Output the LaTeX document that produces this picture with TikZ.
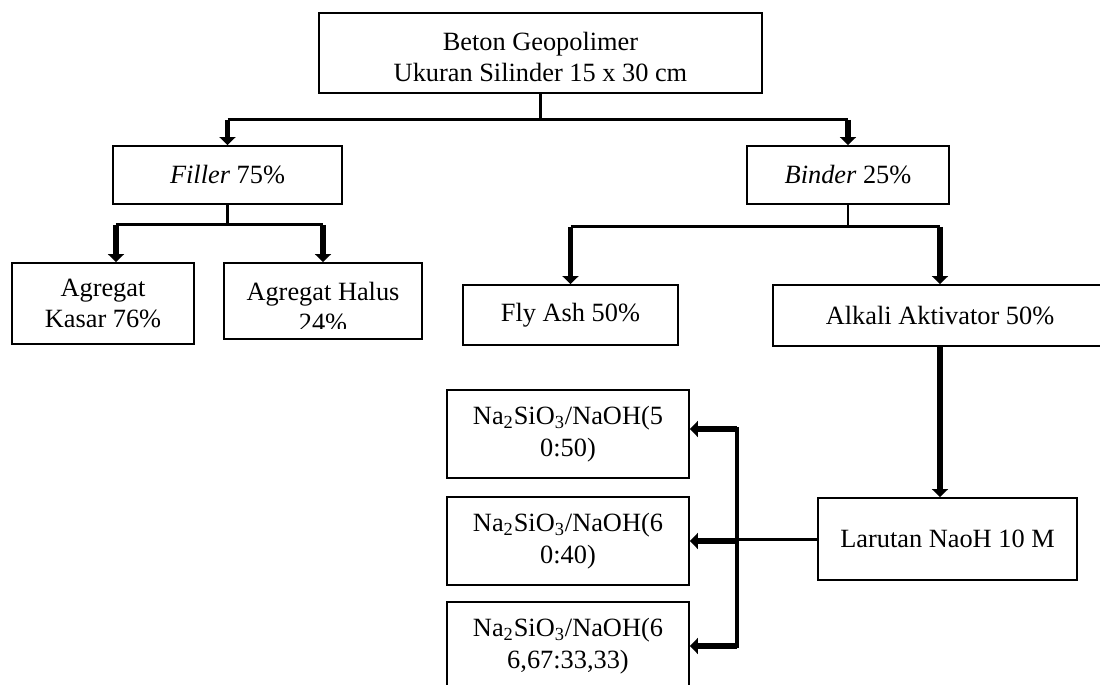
\documentclass[tikz,border=0pt]{standalone}
\usepackage{fontspec}
\setmainfont{Liberation Serif}
\usetikzlibrary{arrows.meta}
\newcommand{\chartfont}{\fontsize{15}{18}\selectfont}
\tikzset{
    box/.style={draw, line width=1.1pt, inner sep=0pt, align=center, font=\chartfont},
    link/.style={line width=1.7pt},
    rail/.style={line width=2.5pt, line cap=rect},
    feed/.style={line width=3.4pt, -{Triangle[width=9pt,length=4.5pt]}}
}

\begin{document}
\begin{tikzpicture}[x=0.02cm, y=-0.02cm]
            \useasboundingbox (0,0) rectangle (1100,684);
            \clip (0,0) rectangle (1100,684);
            % Boxes
            \node[box, minimum width=8.86cm, minimum height=1.6cm] (beton) at (540.5,53) {\rule{0pt}{14.8pt}Beton Geopolimer\\Ukuran Silinder 15 x 30 cm};
            \node[box, minimum width=4.58cm, minimum height=1.16cm] (filler) at (227.5,175) {\textit{Filler} 75\%};
            \node[box, minimum width=4.04cm, minimum height=1.16cm] (binder) at (848,175) {\textit{Binder} 25\%};
            \node[box, minimum width=3.64cm, minimum height=1.62cm] (kasar) at (103,303.5) {Agregat\\Kasar 76\%};
            \node[box, minimum width=3.96cm, minimum height=1.52cm] (halus) at (323,301) {};
            \node[box, minimum width=4.3cm, minimum height=1.2cm] (flyash) at (570.5,315) {Fly Ash 50\%};
            \node[box, minimum width=6.68cm, minimum height=1.22cm] (alkali) at (940,315.5) {Alkali Aktivator 50\%};
            \node[box, minimum width=5.18cm, minimum height=1.64cm] (larutan) at (947.5,539) {Larutan NaoH 10 M};
            \node[box, minimum width=4.84cm, minimum height=1.76cm] (na1) at (568,434) {Na\textsubscript{2}SiO\textsubscript{3}/NaOH(5\\0:50)};
            \node[box, minimum width=4.84cm, minimum height=1.76cm] (na2) at (568,541) {Na\textsubscript{2}SiO\textsubscript{3}/NaOH(6\\0:40)};
            \node[box, minimum width=4.84cm, minimum height=1.76cm] (na3) at (568,646) {Na\textsubscript{2}SiO\textsubscript{3}/NaOH(6\\6,67:33,33)};
            % Text of the fine aggregate box, cut off at the bottom
            \begin{scope}
                \clip (224,263) rectangle (422,328);
                \node[box, draw=none] (halustext) at (323,307) {Agregat Halus\\24\%};
            \end{scope}
            % Beton -> Filler & Binder
            \draw[link] (beton.south) -- ++(0,26) coordinate (betonbus);
            \draw[link] (filler.north |- betonbus) -- (binder.north |- betonbus);
            \draw[feed] (filler.north |- betonbus) -- (filler.north);
            \draw[feed] (binder.north |- betonbus) -- (binder.north);
            % Filler -> Agregat
            \coordinate (kasartop) at ([xshift=0.26cm]kasar.north);
            \draw[link] (filler.south) -- ++(0,20) coordinate (fillerbus);
            \draw[link] (kasartop |- fillerbus) -- (halus.north |- fillerbus);
            \draw[feed] (kasartop |- fillerbus) -- (kasartop);
            \draw[feed] (halus.north |- fillerbus) -- (halus.north);
            % Binder -> Fly Ash & Alkali
            \draw[link] (binder.south) -- ++(0,22) coordinate (binderbus);
            \draw[link] (flyash.north |- binderbus) -- (alkali.north |- binderbus);
            \draw[feed] (flyash.north |- binderbus) -- (flyash.north);
            \draw[feed] (alkali.north |- binderbus) -- (alkali.north);
            % Alkali -> Larutan
            \draw[feed] (alkali.south) -- (alkali.south |- larutan.north);
            % Larutan -> ratios
            \coordinate (na1in) at ([yshift=0.1cm]na1.east);
            \draw[link] (larutan.west) -- ++(-80,0) coordinate (nabus);
            \draw[rail] (nabus |- na1in) -- (nabus |- na3.east);
            \draw[feed] (nabus |- na1in) -- (na1in);
            \draw[feed] (nabus |- na2.east) -- (na2.east);
            \draw[feed] (nabus |- na3.east) -- (na3.east);
        \end{tikzpicture}
\end{document}
